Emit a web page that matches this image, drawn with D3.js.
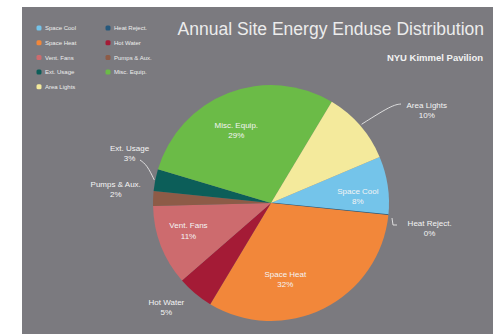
<!DOCTYPE html>
<html>
<head>
<meta charset="utf-8">
<script src="https://cdn.jsdelivr.net/npm/d3@7"></script>
<style>
  body { margin: 0; background: #fff; }
  text { font-family: "Liberation Sans", Arial, sans-serif; }
</style>
</head>
<body>
<div class="container"></div>
<script>
// Chart data
var categories = ["Space Cool", "Heat Reject.", "Space Heat", "Hot Water", "Vent. Fans",
  "Pumps & Aux.", "Ext. Usage", "Misc. Equip.", "Area Lights"];
var shares = [8, 0, 32, 5, 11, 2, 3, 29, 10];
var sliceColors = ["#74c4ea", "#26587c", "#f2873a", "#a41b36", "#cd6b6e",
  "#8d5b47", "#0c5e59", "#6bbb47", "#f4ea9c"];

// legend is two columns, in this order
var legendCol1 = ["Space Cool", "Space Heat", "Vent. Fans", "Ext. Usage", "Area Lights"];
var legendCol2 = ["Heat Reject.", "Hot Water", "Pumps & Aux.", "Misc. Equip."];

var titleText = "Annual Site Energy Enduse Distribution";
var subtitleText = "NYU Kimmel Pavilion";

// label placement: [radius factor, dx, dy] per slice (layout only)
var labelPlace = [
  [0.65, 11, 4], [1.3, 6, 9], [0.65, -20, 7], [1.3, -6, -14], [0.65, -11, -1],
  [1.3, -2, -9], [1.3, 9, -21], [0.65, -7, -2], [1.3, 40, 7]
];

var svgWidth = 493;
var svgHeight = 334;
var cx = 271, cy = 203, radius = 118;
var startDeg = 67;

var svg = d3.select(".container")
  .append("svg")
  .attr("width", svgWidth)
  .attr("height", svgHeight);

// gray panel
svg.append("rect")
  .attr("x", 22).attr("y", 7)
  .attr("width", svgWidth - 22).attr("height", svgHeight - 7)
  .attr("fill", "#7b7a7f");

// title + subtitle
svg.append("text")
  .attr("x", 484).attr("y", 35)
  .attr("text-anchor", "end")
  .attr("font-size", 17.5)
  .attr("fill", "#ececec")
  .text(titleText);

svg.append("text")
  .attr("x", 483).attr("y", 61)
  .attr("text-anchor", "end")
  .attr("font-size", 9.5)
  .attr("font-weight", "bold")
  .attr("fill", "#f2f2f2")
  .text(subtitleText);

// Pie
var color = d3.scaleOrdinal().domain(categories).range(sliceColors);

var pie = d3.pie()
  .sort(null)
  .startAngle(startDeg * Math.PI / 180)
  .endAngle((startDeg + 360) * Math.PI / 180)
  .value(d => d.value);

var data = categories.map((c, i) => ({ name: c, value: shares[i], idx: i }));
var arcs = pie(data);

var arc = d3.arc().innerRadius(0).outerRadius(radius);

var pieGroup = svg.append("g")
  .attr("transform", `translate(${cx}, ${cy})`);

pieGroup.selectAll("path")
  .data(arcs)
  .enter()
  .append("path")
  .attr("d", arc)
  .attr("fill", d => color(d.data.name))
  .attr("stroke", d => d.data.value === 0 ? color(d.data.name) : "none")
  .attr("stroke-width", 1.2);

// polar helper, angle measured clockwise from 12 o'clock
function polar(a, r) {
  return [r * Math.sin(a), -r * Math.cos(a)];
}
function midAngle(d) { return (d.startAngle + d.endAngle) / 2; }

// leader lines for the outside labels
var line = d3.line().curve(d3.curveBasis);
var leaders = {
  "Area Lights": d => [polar(midAngle(d), radius + 2), [121, -98], [130, -99]],
  "Ext. Usage": d => [polar(midAngle(d), radius + 1), [-124, -38], [-131, -43]],
  "Heat Reject.": d => [[121, 15], [122, 22], [126, 22]]
};

pieGroup.selectAll("path.leader")
  .data(arcs.filter(d => leaders[d.data.name]))
  .enter()
  .append("path")
  .attr("class", "leader")
  .attr("d", d => d.data.name === "Heat Reject."
    ? d3.line()(leaders[d.data.name](d))
    : line(leaders[d.data.name](d)))
  .attr("fill", "none")
  .attr("stroke", "#e8e8e8")
  .attr("stroke-width", 0.9);

// slice labels
var labels = pieGroup.selectAll("text.slice")
  .data(arcs)
  .enter()
  .append("text")
  .attr("class", "slice")
  .attr("text-anchor", "middle")
  .attr("font-size", 8)
  .attr("fill", "#f4f4f4")
  .attr("transform", d => {
    var p = labelPlace[d.data.idx];
    var xy = polar(midAngle(d), radius * p[0]);
    return `translate(${xy[0] + p[1]}, ${xy[1] + p[2]})`;
  });

labels.append("tspan")
  .attr("x", 0).attr("dy", "-0.2em")
  .text(d => d.data.name);

labels.append("tspan")
  .attr("x", 0).attr("dy", "1.3em")
  .text(d => d.data.value + "%");

// legend
function drawLegend(items, x0) {
  var g = svg.append("g").attr("transform", `translate(${x0}, 28)`);
  var rows = g.selectAll("g")
    .data(items)
    .enter()
    .append("g")
    .attr("transform", (d, i) => `translate(0, ${i * 14.7})`);
  rows.append("rect")
    .attr("x", -2.5).attr("y", -2.5)
    .attr("width", 5).attr("height", 5)
    .attr("rx", 1.5)
    .attr("fill", d => color(d));
  rows.append("text")
    .attr("x", 6).attr("y", 2.2)
    .attr("font-size", 6)
    .attr("fill", "#eeeeee")
    .text(d => d);
}
drawLegend(legendCol1, 39);
drawLegend(legendCol2, 108);
</script>
</body>
</html>
